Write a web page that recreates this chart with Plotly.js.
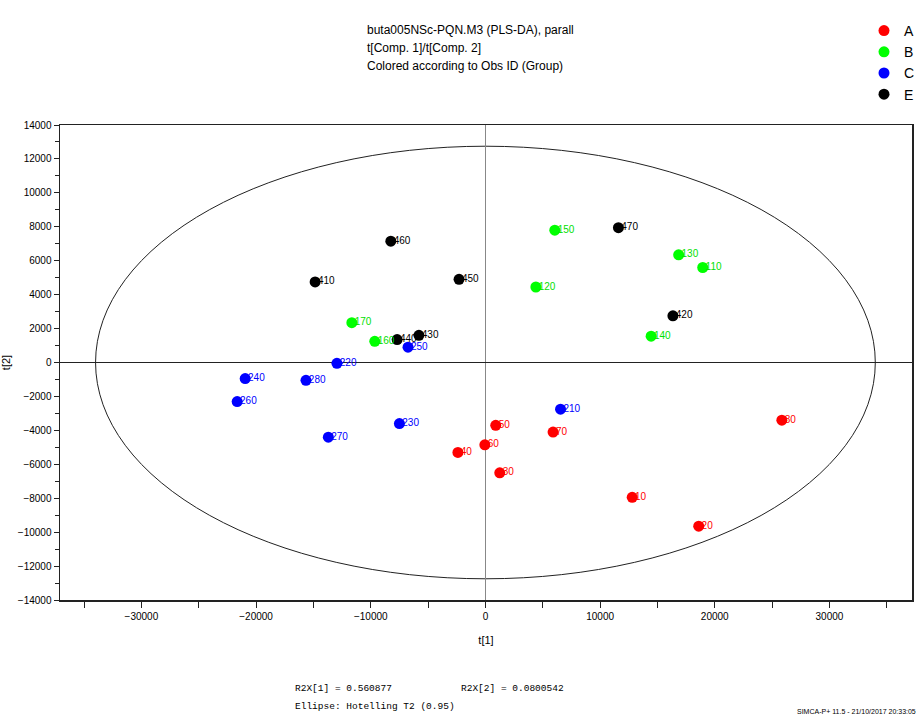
<!DOCTYPE html>
<html>
<head>
<meta charset="utf-8">
<script src="https://cdn.plot.ly/plotly-3.0.1.min.js"></script>
<style>
  html, body { margin: 0; padding: 0; background: #fff; }
  #chart { width: 920px; height: 715px; }
</style>
</head>
<body>
<div id="chart"></div>
<script>
// ---- Data ----
const groupA_labels = ["10", "20", "30", "40", "50", "60", "70", "80"];
const groupA_t1 = [12800, 18600, 1250, -2400, 900, -50, 5900, 25850];
const groupA_t2 = [-7950, -9650, -6500, -5300, -3700, -4850, -4100, -3400];

const groupB_labels = ["110", "120", "130", "140", "150", "160", "170"];
const groupB_t1 = [18950, 4400, 16850, 14450, 6050, -9650, -11650];
const groupB_t2 = [5600, 4450, 6350, 1550, 7800, 1250, 2350];

const groupC_labels = ["210", "220", "230", "240", "250", "260", "270", "280"];
const groupC_t1 = [6550, -12950, -7500, -20950, -6750, -21650, -13700, -15650];
const groupC_t2 = [-2750, -50, -3600, -950, 900, -2300, -4400, -1050];

const groupE_labels = ["410", "420", "430", "440", "450", "460", "470"];
const groupE_t1 = [-14850, 16350, -5800, -7700, -2300, -8250, 11600];
const groupE_t2 = [4750, 2750, 1600, 1350, 4900, 7150, 7950];

// Hotelling T2 (0.95) ellipse semi-axes
const ellipseT1 = 34000;
const ellipseT2 = 12750;

const titleLines = [
  "buta005NSc-PQN.M3 (PLS-DA), parall",
  "t[Comp. 1]/t[Comp. 2]",
  "Colored according to Obs ID (Group)"
];

const sans = '"Liberation Sans", Arial, sans-serif';
const mono = '"Liberation Mono", "Courier New", monospace';

function grp(name, xs, ys, color) {
  return {
    type: 'scatter', mode: 'markers', name: name,
    x: xs, y: ys,
    marker: { color: color, size: 11, line: { width: 0 } },
    cliponaxis: false, hoverinfo: 'x+y'
  };
}
function lbl(name, xs, ys, labels, color) {
  return {
    type: 'scatter', mode: 'markers+text', name: name + ' labels', showlegend: false,
    x: xs, y: ys, text: labels,
    textposition: 'middle right',
    textfont: { family: sans, size: 10, color: color },
    marker: { size: 3, opacity: 0, color: color },
    cliponaxis: false, hoverinfo: 'skip'
  };
}

const traces = [
  grp('A', groupA_t1, groupA_t2, '#ff0000'),
  grp('B', groupB_t1, groupB_t2, '#00ff00'),
  grp('C', groupC_t1, groupC_t2, '#0000ff'),
  grp('E', groupE_t1, groupE_t2, '#000000'),
  lbl('A', groupA_t1, groupA_t2, groupA_labels, '#ff0000'),
  lbl('B', groupB_t1, groupB_t2, groupB_labels, '#00e000'),
  lbl('C', groupC_t1, groupC_t2, groupC_labels, '#0000ff'),
  lbl('E', groupE_t1, groupE_t2, groupE_labels, '#000000')
];

const W = 852, H = 475, L = 60, T = 125;
const px = x => (x - L) / W;
const py = y => (T + H - y) / H;

const annotations = titleLines.map((t, i) => ({
  text: t, xref: 'paper', yref: 'paper', showarrow: false,
  x: px(365), xanchor: 'left',
  y: py(30 + i * 18), yanchor: 'middle',
  font: { family: sans, size: 12, color: '#000' }
}));

annotations.push(
  { text: 'R2X[1] = 0.560877', xref: 'paper', yref: 'paper', showarrow: false,
    x: px(293), xanchor: 'left', y: py(688), yanchor: 'middle',
    font: { family: mono, size: 9.5, color: '#000' } },
  { text: 'R2X[2] = 0.0800542', xref: 'paper', yref: 'paper', showarrow: false,
    x: px(459), xanchor: 'left', y: py(688), yanchor: 'middle',
    font: { family: mono, size: 9.5, color: '#000' } },
  { text: 'Ellipse: Hotelling T2 (0.95)', xref: 'paper', yref: 'paper', showarrow: false,
    x: px(293), xanchor: 'left', y: py(706), yanchor: 'middle',
    font: { family: mono, size: 9.5, color: '#000' } },
  { text: 'SIMCA-P+ 11.5 - 21/10/2017 20:33:05', xref: 'paper', yref: 'paper', showarrow: false,
    x: px(795), xanchor: 'left', y: py(711), yanchor: 'middle',
    font: { family: sans, size: 7, color: '#000' } }
);

const layout = {
  width: 920, height: 715,
  margin: { l: 60, r: 8, t: 125, b: 115, autoexpand: false },
  paper_bgcolor: '#fff', plot_bgcolor: '#fff',
  showlegend: true,
  legend: {
    x: 1, xanchor: 'right', xref: 'container',
    y: 1 - 15 / 715, yanchor: 'top', yref: 'container',
    font: { family: sans, size: 14, color: '#000' },
    tracegroupgap: 0,
    bgcolor: 'rgba(0,0,0,0)'
  },
  xaxis: {
    range: [-37100, 37200], tick0: 0, dtick: 10000, tickformat: 'd',
    ticks: 'outside', ticklen: 6, tickcolor: '#222',
    minor: { dtick: 5000, ticks: 'outside', ticklen: 6, tickcolor: '#222' },
    showline: true, linecolor: '#222', linewidth: 1.5, mirror: true,
    showgrid: false, zeroline: true, zerolinecolor: '#888', zerolinewidth: 1.5,
    tickfont: { family: sans, size: 10, color: '#000' },
    title: { text: 't[1]', standoff: 16, font: { family: sans, size: 11, color: '#000' } }
  },
  yaxis: {
    range: [-14000, 14000], tick0: 0, dtick: 2000, tickformat: 'd',
    ticks: 'outside', ticklen: 5, tickcolor: '#222',
    minor: { dtick: 1000, ticks: 'outside', ticklen: 4, tickcolor: '#222' },
    showline: true, linecolor: '#222', linewidth: 1.5, mirror: true,
    showgrid: false, zeroline: true, zerolinecolor: '#222', zerolinewidth: 1.5,
    tickfont: { family: sans, size: 10, color: '#000' },
    title: { text: 't[2]', standoff: 8, font: { family: sans, size: 11, color: '#000' } }
  },
  shapes: [{
    type: 'circle', xref: 'x', yref: 'y',
    x0: -ellipseT1, x1: ellipseT1, y0: -ellipseT2, y1: ellipseT2,
    line: { color: '#222', width: 1 }, layer: 'below'
  }],
  annotations: annotations
};

Plotly.newPlot('chart', traces, layout, { displayModeBar: false, staticPlot: true });
</script>
</body>
</html>
